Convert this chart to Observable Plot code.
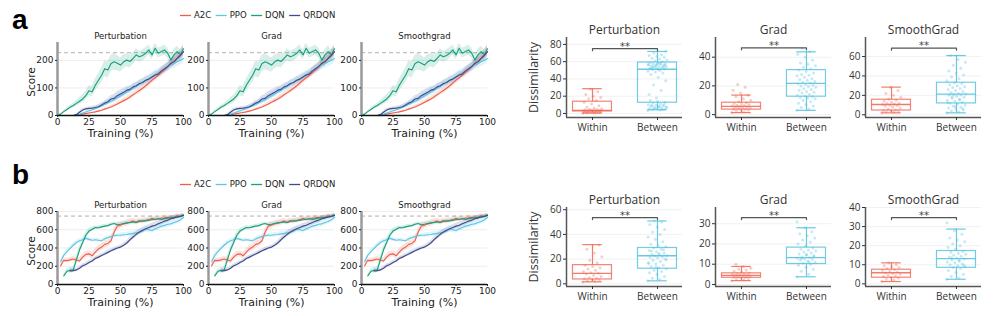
<!DOCTYPE html>
<html><head><meta charset="utf-8">
<script src="https://cdn.jsdelivr.net/npm/d3@7"></script>
<script src="https://cdn.jsdelivr.net/npm/@observablehq/plot@0.6"></script>
<style>
body{margin:0;background:#fff;}
#fig{position:relative;width:997px;height:316px;overflow:hidden;background:#fff;}
#fig svg{position:absolute;overflow:visible;background:transparent;}
.plabel{position:absolute;font:bold 28px "Liberation Sans",Arial,sans-serif;line-height:28px;color:#000;}
</style></head><body><div id="fig"></div>
<script>
// ---------------- data ----------------
const training = [0,2.5,5,7.5,10,12.5,15,17.5,20,22.5,25,27.5,30,32.5,35,37.5,40,42.5,45,47.5,50,52.5,55,57.5,60,62.5,65,67.5,70,72.5,75,77.5,80,82.5,85,87.5,90,92.5,95,97.5,100];
const algorithms = ["A2C","PPO","DQN","QRDQN"];
const lineTitles = ["Perturbation","Grad","Smoothgrad"];
const boxTitles = ["Perturbation","Grad","SmoothGrad"];
const groups = ["Within","Between"];

// row a: training scores
const a_A2C   = [0,0,0,0,0,0,0,2,5,7,9,11,13,16,19,23,27,31,36,42,48,54,60,67,75,83,91,99,108,118,128,137,146,156,166,176,187,198,209,221,232];
const a_PPO   = [0,0,0,0,0,0,2,5,9,13,17,21,25,30,35,40,46,52,58,65,72,78,85,92,99,106,113,120,127,134,141,148,155,162,169,176,183,189,195,201,207];
const a_DQN   = [0,5,14,22,30,36,44,52,60,72,90,86,110,128,146,170,165,189,195,190,183,195,201,196,207,220,213,218,226,238,220,244,226,232,238,226,201,220,232,220,242];
const a_QRDQN = [0,0,0,0,0,0,3,12,20,24,26,27,29,32,38,45,50,60,62,72,78,84,92,95,104,108,116,120,128,132,140,147,150,162,170,178,190,195,207,218,232];
const a_A2C_sd   = [0,0,0,0,0,0,0,1,2,2,3,3,3,4,4,5,5,6,6,7,7,8,8,9,9,10,10,11,11,12,12,13,13,14,14,15,16,17,18,19,20];
const a_PPO_sd   = [0,0,0,0,0,0,1,2,3,4,5,6,7,8,9,10,10,11,11,12,12,12,13,13,13,14,14,14,15,15,15,16,16,16,17,17,17,18,18,18,18];
const a_DQN_sd   = [0,2,4,5,6,8,10,12,14,16,18,20,22,24,26,28,30,30,30,28,26,25,24,24,22,22,20,20,20,18,18,18,18,18,18,18,20,20,20,18,18];
const a_QRDQN_sd = [0,0,0,0,0,0,2,4,5,5,5,6,6,7,8,9,10,12,14,15,15,14,13,12,12,12,12,12,12,12,12,12,12,13,13,14,14,15,15,15,15];
const a_target = 228;

// row b: training scores
const b_A2C   = [null,205,265,262,270,280,268,258,300,330,336,315,355,390,410,440,450,480,575,640,650,665,672,682,695,683,700,693,700,708,725,712,720,728,730,735,728,738,752,745,755];
const b_PPO   = [null,250,320,360,395,430,460,480,490,505,495,485,490,485,480,500,515,525,535,540,540,545,548,555,560,565,572,585,605,600,592,610,625,640,648,660,665,680,690,710,735];
const b_DQN   = [null,null,95,145,155,160,270,380,460,540,585,605,625,622,632,640,645,660,668,655,660,668,675,680,685,680,690,698,700,705,710,715,720,712,722,728,732,735,740,745,765];
const b_QRDQN = [null,null,null,null,150,152,160,178,205,220,240,258,285,300,318,335,352,370,385,400,410,430,455,490,520,550,575,595,610,625,640,650,665,680,695,705,720,730,740,748,758];
const b_A2C_sd   = [0,20,25,25,25,30,30,30,35,35,35,35,35,40,40,40,40,40,40,40,40,35,35,35,30,30,30,30,30,30,30,25,25,25,25,25,25,25,20,20,20];
const b_PPO_sd   = [0,20,25,25,25,25,25,25,20,20,20,20,20,20,20,20,20,20,20,22,25,25,25,25,25,28,30,30,30,30,30,30,30,30,32,32,32,32,30,30,30];
const b_DQN_sd   = [0,0,20,25,30,35,40,40,40,35,30,25,20,20,20,18,18,18,18,18,18,18,18,18,18,18,18,18,18,18,18,18,18,18,18,18,18,18,18,18,18];
const b_QRDQN_sd = [0,0,0,0,20,20,20,20,20,20,20,20,20,20,20,20,20,20,20,20,20,22,25,28,30,30,30,30,30,30,30,30,30,30,30,28,25,25,25,22,20];
const b_target = 750;

// dissimilarity samples, row a
const a_pert_within  = [0.3,0.6,0.8,1.0,1.2,1.4,1.6,1.8,2.0,2.1,2.3,2.5,2.7,2.9,3.1,3.3,3.6,3.9,4.2,4.6,5.0,5.5,6.2,7.5,9,11,13,15,17,18.5,20,22,25,28];
const a_pert_between = [3.5,4,4.5,5,5.5,6,6.5,7,7.5,8,8.5,9,9.5,10,11,12,13,14,15,4.2,5.8,6.8,7.8,9.2,10.5,18,22,27,33,38,42,45,47,48,49,50,51,51.5,52,52.5,53,53.5,54,54.5,55,55.5,56,56.5,57,57.5,58,58.5,59,60,61,62,63,64,65,66,67,68,70,72,50.5,52.2,53.8,55.2,56.8,58.2,54.1,55.7,57.3];
const a_grad_within  = [1.5,2,2.5,3,3.3,3.6,3.9,4.2,4.5,4.8,5.1,5.4,5.7,6,6.3,6.6,7,7.4,7.8,8.3,9,10,11,12.5,13.5,15,17,19,21];
const a_grad_between = [3,4,5,6,7,8,9,10,11,11.5,12,12.5,13,13.5,14,15,15.5,16,17,17.5,18,19,19.5,20,20.5,21,21.5,22,22.5,23,24,24.5,25,26,27,27.5,28,29,30,31,32,33,34,35,36,38,40,42,44,46];
const a_smooth_within  = [2,2.5,3,3.5,4,4.5,5,6,7,8,9,9.5,10,10.5,11,11.5,12,13,14,15,16,18,20,22,25,28];
const a_smooth_between = [2,3,4,5,6,7,8,9,10,11,12,13,14,15,16,17,18,19,20,20.5,21,21.5,22,23,24,25,26,27,28,29,30,31,32,33,35,37,39,41,43,45,48,51,54,57,61,6.5,8.5,12.5,15.5,18.5];
// dissimilarity samples, row b
const b_pert_within  = [1.5,2,2.5,3,3.5,4,4.5,5,6,7,8,8.5,9,10,11,12,13,14,15,17,19,22,25,28,31.5];
const b_pert_between = [2.5,3.5,4.5,6,7.5,9,10,11,12,13,14,15,16,17,18,19,20,21,21.5,22,22.5,23,23.5,24,25,26,27,28,29,30,31,32,34,36,38,40,42,44,46,48,50,51,19.5,24.5,26.5,27.5,13.5,16.5];
const b_grad_within  = [1.9,2.3,2.7,3,3.2,3.4,3.6,3.8,4,4.2,4.4,4.6,4.8,5,5.2,5.4,5.7,6,6.5,7,7.5,8,8.9,10];
const b_grad_between = [3.8,5,6.5,7.5,8.5,9.5,10,10.5,11,11.5,12,12.3,12.6,13,13.3,13.6,14,14.5,15,15.5,16,16.5,17,17.5,18,19,20,21,22,23,24,25,26,28,31,11.2,12.8,13.8,14.8];
const b_smooth_within  = [1.2,2,2.5,3,3.4,3.8,4.2,4.6,5,5.4,5.8,6.2,6.6,7,7.4,8,8.5,9,9.5,10,11];
const b_smooth_between = [2.4,3,4,5,6,7,8,8.5,9,9.5,10,10.5,11,11.5,12,12.5,13,13.5,14,14.5,15,15.5,16,16.5,17,18,19,20,21,22,23,24,26,28,32,12.2,13.7,9.8];

// box statistics [lower whisker, q1, median, q3, upper whisker]
const a_pert_within_stats   = [0.5, 2.3, 3.5, 13.6, 28.7];
const a_pert_between_stats  = [4.3, 12.4, 51.2, 59, 71.8];
const a_grad_within_stats   = [1.4, 3.5, 5.8, 8.3, 13.6];
const a_grad_between_stats  = [3, 12.5, 21.7, 31, 43.7];
const a_smooth_within_stats = [2, 4.4, 10.6, 15.5, 28.5];
const a_smooth_between_stats= [2, 11.7, 21.3, 33, 61];
const b_pert_within_stats   = [1.6, 3.5, 8.4, 15.1, 31.7];
const b_pert_between_stats  = [2.4, 12.2, 22.7, 29, 50.9];
const b_grad_within_stats   = [1.9, 3.3, 4.5, 5.5, 8.9];
const b_grad_between_stats  = [3.8, 10.1, 13.3, 18.2, 28];
const b_smooth_within_stats = [1.2, 3.2, 5.8, 7.4, 11];
const b_smooth_between_stats= [2.4, 8.4, 13.2, 17.2, 28.7];

// significance bracket levels
const a_sig = [75, 46.5, 68.6];
const b_sig = [53.6, 33, 34.7];

// axis ticks
const trainingTicks = [0,25,50,75,100];
const a_scoreTicks = [0,100,200];
const b_scoreTicks = [0,200,400,600,800];
const a_boxTicks = [[0,20,40,60,80],[0,20,40],[0,20,40,60]];
const b_boxTicks = [[0,20,40,60],[0,10,20,30],[0,10,20,30,40]];

// ---------------- styles / layout ----------------
const algoColors = ["#ef5f4b","#5cc6e4","#16a07e","#3d4b8e"];
const groupColors = ["#ee6552","#4fbfdd"];
const fig = document.getElementById("fig");
const lineX0 = [57, 208, 361];
const boxX0 = [566, 715, 865];
const FONT_L = "DejaVu Sans";
const FONT_B = "Open Sans";

function place(svg, left, top) {
  svg.style.left = left + "px";
  svg.style.top = top + "px";
  fig.appendChild(svg);
}

function seriesTable(vals, sds) {
  const out = [];
  vals.forEach((v, k) => {
    v.forEach((y, i) => { if (y != null) out.push({t: training[i], v: y, s: sds[k][i], name: algorithms[k]}); });
  });
  return out;
}

function linePanel(col, plotTop, plotH, data, yDomain, yTicks, target, title) {
  const ML = 40, MR = 10, MT = 14, MB = 28, W = 126;
  const svg = Plot.plot({
    width: ML + W + MR, height: MT + plotH + MB,
    marginLeft: ML, marginRight: MR, marginTop: MT, marginBottom: MB,
    x: {domain: [0, 100]},
    y: {domain: yDomain},
    color: {domain: algorithms, range: algoColors},
    style: {fontFamily: FONT_L, fontSize: "9px", color: "#222", background: "transparent", overflow: "visible"},
    marks: [
      Plot.gridY(yTicks, {stroke: "#e8e8e8", strokeOpacity: 1, strokeWidth: 0.8}),
      Plot.ruleY([target], {stroke: "#b0b0b0", strokeDasharray: "4,3", strokeWidth: 1}),
      Plot.areaY(data, {x: "t", y1: d => d.v - d.s, y2: d => d.v + d.s, fill: "name", z: "name", fillOpacity: 0.17}),
      Plot.line(data, {x: "t", y: "v", stroke: "name", z: "name", strokeWidth: 1.15}),
      Plot.ruleX([0], {stroke: "#9a9a9a", strokeWidth: 2.5}),
      Plot.ruleY([yDomain[0]], {stroke: "#111", strokeWidth: 1.5}),
      Plot.axisX(trainingTicks, {tickSize: 2, tickPadding: 1.5, fontSize: 9, label: null}),
      Plot.axisY(yTicks, {tickSize: 2, tickPadding: 2, fontSize: 9, label: null}),
      Plot.text([title], {text: d => d, frameAnchor: "top", lineAnchor: "middle", textAnchor: "middle", dy: -6, fontSize: 8.5}),
      Plot.text(["Training (%)"], {text: d => d, frameAnchor: "bottom", lineAnchor: "middle", textAnchor: "middle", dy: 18, fontSize: 11}),
      col === 0 ? Plot.text(["Score"], {text: d => d, frameAnchor: "left", lineAnchor: "middle", textAnchor: "middle", rotate: -90, dx: -26, dy: 3, fontSize: 10.5}) : null
    ]
  });
  place(svg, lineX0[col] - ML, plotTop - MT);
}

// legend item offsets computed from the measured label widths
const measureCtx = document.createElement("canvas").getContext("2d");
measureCtx.font = `8.5px "${FONT_L}"`;
function legend(top) {
  const items = [];
  let off = 0;
  algorithms.forEach(name => {
    items.push({name, off});
    off += 13.5 + measureCtx.measureText(name).width + 5;
  });
  const svg = Plot.plot({
    width: 170, height: 14, margin: 0,
    x: {domain: [0, 170], range: [5, 175], axis: null},
    y: {domain: [0, 1], axis: null},
    color: {domain: algorithms, range: algoColors},
    style: {fontFamily: FONT_L, fontSize: "8.5px", color: "#222", background: "transparent", overflow: "visible"},
    marks: [
      Plot.ruleY(items, {y: () => 0.5, x1: d => d.off, x2: d => d.off + 11, stroke: "name", strokeWidth: 1.3}),
      Plot.text(items, {x: d => d.off + 13.5, y: () => 0.5, text: "name", textAnchor: "start", fontSize: 8.5})
    ]
  });
  place(svg, 175, top);
}

const jit = i => (((i * 0.6180339887) % 1) - 0.5) * 0.3;

function boxPanel(col, plotTop, plotBottom, title, yDomain, yTicks, samples, stats, sig) {
  const ML = col === 0 ? 48 : 36, MR = 8, MT = 17, MB = 24, W = 116;
  const xDomain = [-0.4, 1.385];
  const marks = [Plot.gridY(yTicks, {stroke: "#ededed", strokeOpacity: 1, strokeWidth: 0.8})];
  groups.forEach((gname, g) => {
    const pts = samples[g].map((v, i) => ({v, i}));
    const st = stats[g];
    const c = groupColors[g];
    const row = [{lo: st[0], q1: st[1], med: st[2], q3: st[3], hi: st[4]}];
    marks.push(
      Plot.dot(pts, {x: d => g + jit(d.i), y: "v", r: 1.5, fill: c, fillOpacity: 0.33, stroke: "none"}),
      Plot.rect(row, {x1: () => g - 0.3, x2: () => g + 0.3, y1: "q1", y2: "q3", fill: "none", stroke: c, strokeWidth: 1.2, strokeOpacity: 0.8}),
      Plot.ruleY(row, {y: "med", x1: () => g - 0.3, x2: () => g + 0.3, stroke: c, strokeWidth: 1.3, strokeOpacity: 0.85}),
      Plot.ruleX(row, {x: () => g, y1: "lo", y2: "q1", stroke: c, strokeWidth: 1.2, strokeOpacity: 0.85}),
      Plot.ruleX(row, {x: () => g, y1: "q3", y2: "hi", stroke: c, strokeWidth: 1.2, strokeOpacity: 0.85}),
      Plot.ruleY(row, {y: "lo", x1: () => g - 0.15, x2: () => g + 0.15, stroke: c, strokeWidth: 1.2, strokeOpacity: 0.85}),
      Plot.ruleY(row, {y: "hi", x1: () => g - 0.15, x2: () => g + 0.15, stroke: c, strokeWidth: 1.2, strokeOpacity: 0.85})
    );
  });
  const d = (yDomain[1] - yDomain[0]) * 0.025;
  marks.push(
    Plot.line([{x: 0, y: sig - d}, {x: 0, y: sig}, {x: 1, y: sig}, {x: 1, y: sig - d}], {x: "x", y: "y", stroke: "#555", strokeWidth: 1.2}),
    Plot.text([sig], {x: () => 0.5, y: v => v, text: () => "**", lineAnchor: "bottom", dy: 1, fontSize: 10, fontFamily: FONT_L, fill: "#444"}),
    Plot.ruleX([xDomain[0]], {y1: yDomain[0], y2: yDomain[1], stroke: "#555", strokeWidth: 1.5}),
    Plot.ruleY([yDomain[0]], {x1: xDomain[0], x2: xDomain[1], stroke: "#555", strokeWidth: 1.5}),
    Plot.axisY(yTicks, {tickSize: 3, tickPadding: 2, fontSize: 10, label: null}),
    Plot.axisX([0, 1], {tickFormat: i => groups[i], tickSize: 3, tickPadding: 3, fontSize: 10, label: null}),
    Plot.text([title], {text: v => v, frameAnchor: "top", lineAnchor: "middle", textAnchor: "middle", dy: -7, fontSize: 12})
  );
  if (col === 0) marks.push(Plot.text(["Dissimilarity"], {text: v => v, frameAnchor: "left", lineAnchor: "middle", textAnchor: "middle", rotate: -90, dx: -33, fontSize: 12.5}));
  const svg = Plot.plot({
    width: ML + W + MR, height: MT + (plotBottom - plotTop) + MB,
    marginLeft: ML, marginRight: MR, marginTop: MT, marginBottom: MB,
    x: {domain: xDomain},
    y: {domain: yDomain},
    style: {fontFamily: FONT_B, fontSize: "10px", color: "#333", background: "transparent", overflow: "visible"},
    marks
  });
  place(svg, boxX0[col] - ML, plotTop - MT);
}

// ---------------- build ----------------
const aData = seriesTable([a_A2C, a_PPO, a_DQN, a_QRDQN], [a_A2C_sd, a_PPO_sd, a_DQN_sd, a_QRDQN_sd]);
const bData = seriesTable([b_A2C, b_PPO, b_DQN, b_QRDQN], [b_A2C_sd, b_PPO_sd, b_DQN_sd, b_QRDQN_sd]);

for (let c = 0; c < 3; c++) {
  linePanel(c, 42, 73, aData, [0, 265], a_scoreTicks, a_target, lineTitles[c]);
  linePanel(c, 211, 73, bData, [0, 800], b_scoreTicks, b_target, lineTitles[c]);
}
legend(8);
legend(177);

const aSamples = [[a_pert_within, a_pert_between], [a_grad_within, a_grad_between], [a_smooth_within, a_smooth_between]];
const aStats = [[a_pert_within_stats, a_pert_between_stats], [a_grad_within_stats, a_grad_between_stats], [a_smooth_within_stats, a_smooth_between_stats]];
const bSamples = [[b_pert_within, b_pert_between], [b_grad_within, b_grad_between], [b_smooth_within, b_smooth_between]];
const bStats = [[b_pert_within_stats, b_pert_between_stats], [b_grad_within_stats, b_grad_between_stats], [b_smooth_within_stats, b_smooth_between_stats]];
const aDomains = [[-4.7, 88], [-2, 53.7], [-2.8, 79.6]];
const bDomains = [[-2.2, 61.8], [-1, 38], [-1.4, 40]];
for (let c = 0; c < 3; c++) {
  boxPanel(c, 37, 117, boxTitles[c], aDomains[c], a_boxTicks[c], aSamples[c], aStats[c], a_sig[c]);
  boxPanel(c, 207, 286, boxTitles[c], bDomains[c], b_boxTicks[c], bSamples[c], bStats[c], b_sig[c]);
}

// panel letters
[["a", 6], ["b", 161]].forEach(([t, top]) => {
  const el = document.createElement("div");
  el.className = "plabel";
  el.textContent = t;
  el.style.left = "12px";
  el.style.top = top + "px";
  fig.appendChild(el);
});
</script>
</body></html>
